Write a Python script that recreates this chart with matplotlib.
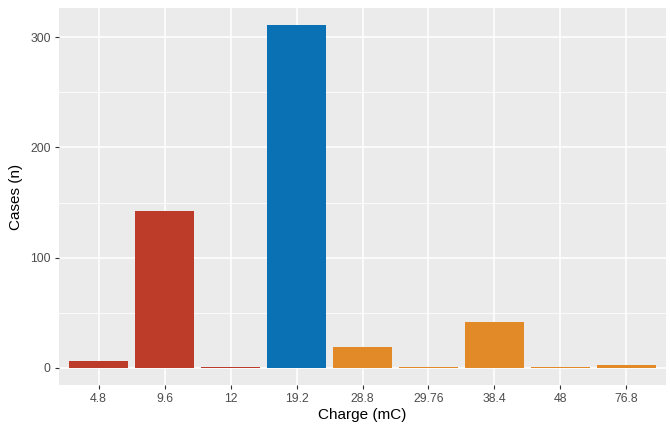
import matplotlib
matplotlib.use("Agg")
import matplotlib.pyplot as plt
import numpy as np

categories = ["4.8", "9.6", "12", "19.2", "28.8", "29.76", "38.4", "48", "76.8"]
cases = [6, 142, 1, 311, 19, 1, 42, 1, 3]
groups = ["low", "low", "low", "mid", "high", "high", "high", "high", "high"]
group_colors = {"low": "#BD3B29", "mid": "#0A71B5", "high": "#E38A28"}

plt.rcParams['font.family'] = ['Liberation Sans', 'DejaVu Sans']

fig = plt.figure(figsize=(6.7, 4.25), dpi=100)
ax = fig.add_axes([59/670, 1-385/425, (666-59)/670, (385-8)/425])
ax.set_facecolor("#EBEBEB")

x = np.arange(len(categories))
ax.bar(x, cases, width=0.9, color=[group_colors[g] for g in groups], zorder=3)

ax.set_xlim(-0.6, len(categories) - 0.4)
ax.set_ylim(-15.55, 326.6)
ax.set_xticks(x)
ax.set_xticklabels(categories)
ax.set_yticks([0, 100, 200, 300])
ax.set_yticks([50, 150, 250], minor=True)

ax.grid(True, which="major", color="white", linewidth=1.1, zorder=0)
ax.grid(True, which="minor", axis="y", color="white", linewidth=0.55, zorder=0)
ax.set_axisbelow(True)
for s in ax.spines.values():
    s.set_visible(False)

ax.tick_params(axis="both", which="major", length=3, width=0.8, color="#333333",
               labelcolor="#4D4D4D", labelsize=8.8, pad=3)
ax.tick_params(axis="both", which="minor", length=0)

ax.set_xlabel("Charge (mC)", fontsize=11, color="black", labelpad=2)
ax.set_ylabel("Cases (n)", fontsize=11, color="black", labelpad=5)

fig.savefig("out.png", dpi=100, facecolor="white")
